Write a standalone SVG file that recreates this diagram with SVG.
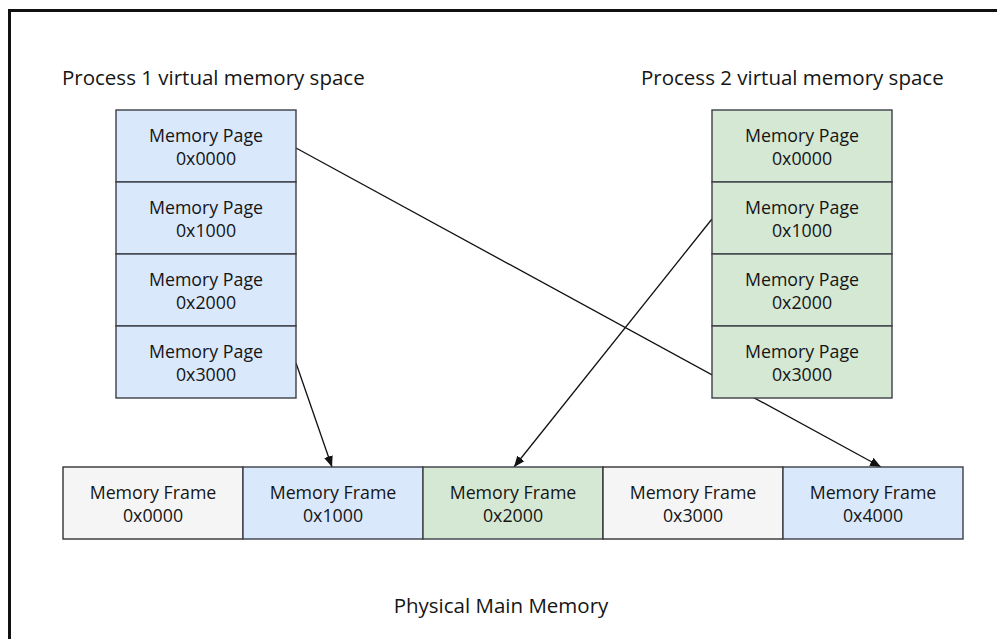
<svg xmlns="http://www.w3.org/2000/svg" width="997" height="639" viewBox="0 0 997 639">
<style>
text{font-family:"Open Sans","Liberation Sans",sans-serif;fill:#151515}
.t{font-size:20.5px}
.n{font-size:17.8px;text-anchor:middle}
.blue{fill:#dae8fc;stroke:#3d3f47;stroke-width:1.4}
.green{fill:#d5e8d4;stroke:#3d3f47;stroke-width:1.4}
.grey{fill:#f5f5f5;stroke:#333;stroke-width:1.4}
.c{stroke:#111;stroke-width:1.3;fill:none;marker-end:url(#ah)}
</style>
<defs>
<marker id="ah" markerUnits="userSpaceOnUse" markerWidth="12" markerHeight="10" refX="11" refY="5" orient="auto">
<path d="M0,0.5 L11,5 L0,9.5 Z" fill="#111"/>
</marker>
</defs>
<rect width="997" height="639" fill="#fff"/>
<path d="M9.5,639 V10.5 H997" fill="none" stroke="#111" stroke-width="3"/>
<text class="t" x="62" y="85">Process 1 virtual memory space</text>
<text class="t" x="641" y="85">Process 2 virtual memory space</text>
<text class="t" x="501" y="613" text-anchor="middle">Physical Main Memory</text>
<g id="connectors">
<line class="c" x1="296" y1="148" x2="881" y2="467"/>
<line class="c" x1="296" y1="363" x2="332" y2="467"/>
<line class="c" x1="712" y1="219" x2="514" y2="467"/>
</g>
<g id="p1-0000"><rect class="blue" x="116" y="110" width="180" height="72"/><text class="n" x="206" y="142">Memory Page</text><text class="n" x="206" y="165">0x0000</text></g>
<g id="p1-1000"><rect class="blue" x="116" y="182" width="180" height="72"/><text class="n" x="206" y="214">Memory Page</text><text class="n" x="206" y="237">0x1000</text></g>
<g id="p1-2000"><rect class="blue" x="116" y="254" width="180" height="72"/><text class="n" x="206" y="286">Memory Page</text><text class="n" x="206" y="309">0x2000</text></g>
<g id="p1-3000"><rect class="blue" x="116" y="326" width="180" height="72"/><text class="n" x="206" y="358">Memory Page</text><text class="n" x="206" y="381">0x3000</text></g>
<g id="p2-0000"><rect class="green" x="712" y="110" width="180" height="72"/><text class="n" x="802" y="142">Memory Page</text><text class="n" x="802" y="165">0x0000</text></g>
<g id="p2-1000"><rect class="green" x="712" y="182" width="180" height="72"/><text class="n" x="802" y="214">Memory Page</text><text class="n" x="802" y="237">0x1000</text></g>
<g id="p2-2000"><rect class="green" x="712" y="254" width="180" height="72"/><text class="n" x="802" y="286">Memory Page</text><text class="n" x="802" y="309">0x2000</text></g>
<g id="p2-3000"><rect class="green" x="712" y="326" width="180" height="72"/><text class="n" x="802" y="358">Memory Page</text><text class="n" x="802" y="381">0x3000</text></g>
<g id="f-0000"><rect class="grey" x="63" y="467" width="180" height="72"/><text class="n" x="153" y="499">Memory Frame</text><text class="n" x="153" y="522">0x0000</text></g>
<g id="f-1000"><rect class="blue" x="243" y="467" width="180" height="72"/><text class="n" x="333" y="499">Memory Frame</text><text class="n" x="333" y="522">0x1000</text></g>
<g id="f-2000"><rect class="green" x="423" y="467" width="180" height="72"/><text class="n" x="513" y="499">Memory Frame</text><text class="n" x="513" y="522">0x2000</text></g>
<g id="f-3000"><rect class="grey" x="603" y="467" width="180" height="72"/><text class="n" x="693" y="499">Memory Frame</text><text class="n" x="693" y="522">0x3000</text></g>
<g id="f-4000"><rect class="blue" x="783" y="467" width="180" height="72"/><text class="n" x="873" y="499">Memory Frame</text><text class="n" x="873" y="522">0x4000</text></g>
</svg>
